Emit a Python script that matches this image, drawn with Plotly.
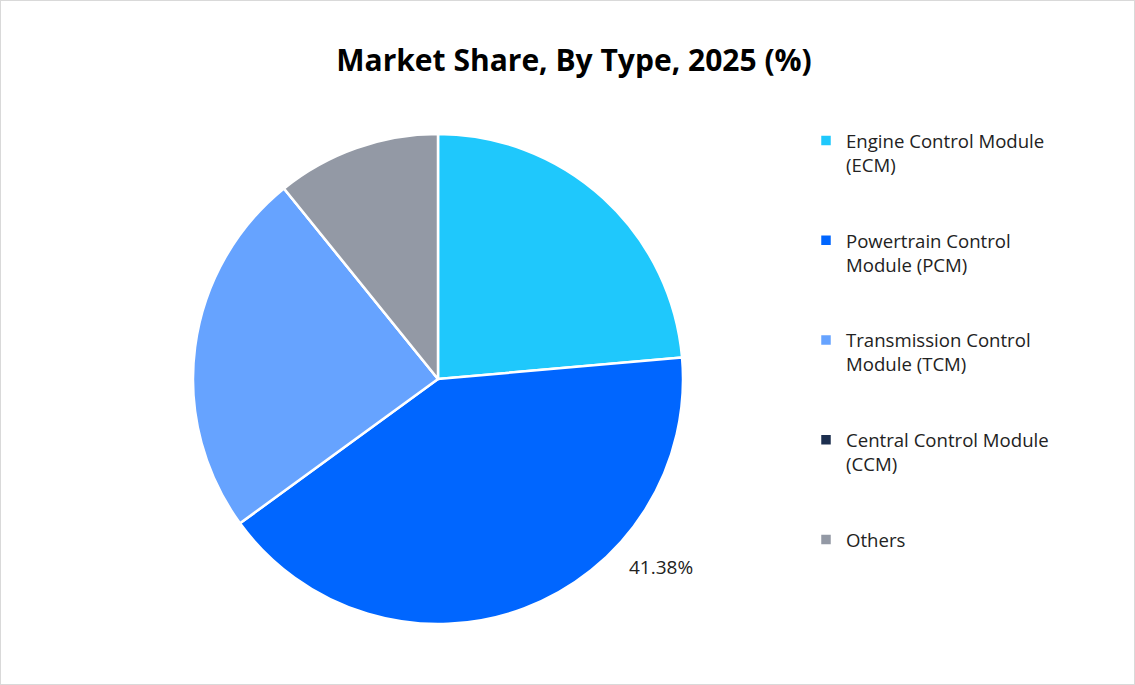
import plotly.graph_objects as go

legend_names = ["Engine Control Module<br>(ECM)<br> <br> ", "Powertrain Control<br>Module (PCM)<br> <br> ",
                "Transmission Control<br>Module (TCM)<br> <br> ", "Central Control Module<br>(CCM)<br> <br> ",
                "Others<br> <br> <br> "]
values = [23.6, 41.38, 24.2, 0.0, 10.82]
colors = ["#1FC8FC", "#0066FF", "#66A3FF", "#1C2F4F", "#9399A5"]
shown_label = "41.38%"

W, H = 1135, 685
cx, cy, r = 438, 379, 245

fig = go.Figure(go.Pie(
    labels=legend_names,
    values=values,
    sort=False,
    direction="clockwise",
    rotation=0,
    marker=dict(colors=colors, line=dict(color="white", width=2.5)),
    textinfo="none",
    hoverinfo="label+value",
    domain=dict(x=[(cx - r) / W, (cx + r) / W], y=[(H - cy - r) / H, (H - cy + r) / H]),
))

fig.add_annotation(text=shown_label, x=661 / W, y=1 - 567 / H, xref="paper", yref="paper",
                   xanchor="center", yanchor="middle",
                   showarrow=False, font=dict(size=19, color="#222222", family="Open Sans"))

fig.add_shape(type="rect", xref="paper", yref="paper", x0=0, y0=0, x1=1, y1=1,
              line=dict(color="#D9D9D9", width=2))

fig.update_layout(
    width=W, height=H,
    margin=dict(l=0, r=0, t=0, b=0),
    paper_bgcolor="white",
    title=dict(text="<b>Market Share, By Type, 2025 (%)</b>", x=574 / W, xanchor="center",
               y=1 - 60 / H, yanchor="middle",
               font=dict(size=30, family="Open Sans", color="#000000")),
    legend=dict(x=806 / W, y=1 - 122 / H, xanchor="left", yanchor="top", valign="top",
                font=dict(size=18.6, family="Open Sans", color="#222222"),
                itemclick=False),
    showlegend=True,
)

fig.write_html("out.html", config={"displayModeBar": False},
               post_script="document.body.style.margin='0';document.body.style.overflow='hidden';")
